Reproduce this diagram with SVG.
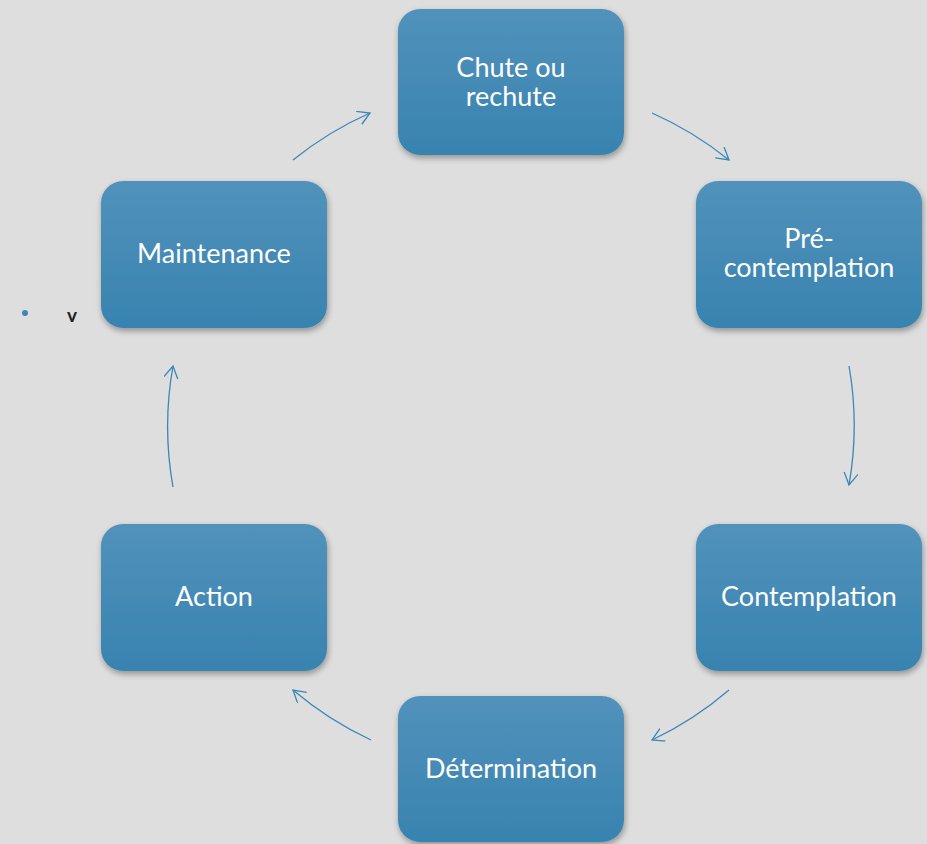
<svg xmlns="http://www.w3.org/2000/svg" width="927" height="844" viewBox="0 0 927 844">
<defs>
<linearGradient id="g" x1="0" y1="0" x2="0" y2="1">
<stop offset="0" stop-color="#5192BB"/>
<stop offset="1" stop-color="#3883B0"/>
</linearGradient>
<filter id="sh" x="-10%" y="-10%" width="125%" height="130%">
<feGaussianBlur in="SourceAlpha" stdDeviation="3"/>
<feOffset dx="1" dy="3" result="b"/>
<feComponentTransfer><feFuncA type="linear" slope="0.35"/></feComponentTransfer>
<feMerge><feMergeNode/><feMergeNode in="SourceGraphic"/></feMerge>
</filter>
<marker id="ah" markerWidth="20" markerHeight="20" refX="14" refY="7" orient="auto" markerUnits="userSpaceOnUse">
<path d="M2,0 L14,7 L2,14" fill="none" stroke="#3A87B8" stroke-width="1.3"/>
</marker>
</defs>
<style>
.box{fill:url(#g);filter:url(#sh)}
.t{font-family:Lato,"Open Sans",sans-serif;font-size:27px;fill:#FFFFFF;text-anchor:middle}
.c{fill:none;stroke:#3A87B8;stroke-width:1.3;marker-end:url(#ah)}
</style>
<rect width="927" height="844" fill="#DEDEDE"/>
<g id="connectors">
<path class="c" d="M293,160 A343,343 0 0 1 370,113"/>
<path class="c" d="M652,113 A343,343 0 0 1 729,160"/>
<path class="c" d="M849,366 A343,343 0 0 1 849,485"/>
<path class="c" d="M729,690 A343,343 0 0 1 652,740"/>
<path class="c" d="M371,740 A343,343 0 0 1 293,690"/>
<path class="c" d="M173,487 A343,343 0 0 1 173,366"/>
</g>
<g id="chute"><rect class="box" x="398" y="9" width="226" height="146" rx="22"/>
<text class="t" x="511" y="77">Chute ou</text><text class="t" x="511" y="106">rechute</text></g>
<g id="precontemplation"><rect class="box" x="696" y="181" width="226" height="147" rx="22"/>
<text class="t" x="809" y="248">Pré-</text><text class="t" x="809" y="277">contemplation</text></g>
<g id="contemplation"><rect class="box" x="696" y="524" width="226" height="147" rx="22"/>
<text class="t" x="809" y="606">Contemplation</text></g>
<g id="determination"><rect class="box" x="398" y="696" width="226" height="146" rx="22"/>
<text class="t" x="511" y="778">Détermination</text></g>
<g id="action"><rect class="box" x="101" y="524" width="226" height="147" rx="22"/>
<text class="t" x="214" y="606">Action</text></g>
<g id="maintenance"><rect class="box" x="101" y="181" width="226" height="147" rx="22"/>
<text class="t" x="214" y="263">Maintenance</text></g>
<g id="bullet"><circle cx="25" cy="313" r="3" fill="#3A87B8"/>
<text x="67" y="322" font-family="Lato,'Open Sans',sans-serif" font-size="19" font-weight="bold" fill="#222222">v</text></g>
</svg>
